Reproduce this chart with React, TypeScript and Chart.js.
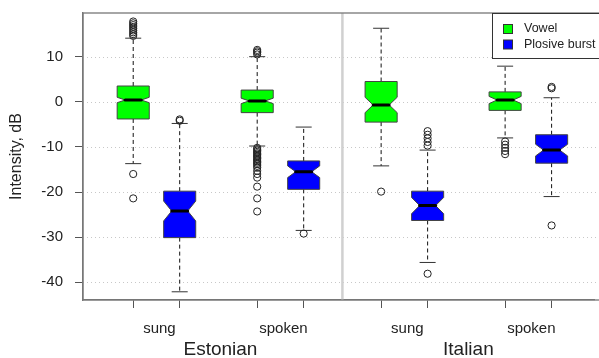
import React, { useEffect, useRef } from "react";
import { Chart, registerables } from "chart.js";
Chart.register(...registerables);

// ---- data ----
const styleLabels = ["sung", "spoken", "sung", "spoken"];
const languageLabels = ["Estonian", "Italian"];
const seriesNames = ["Vowel", "Plosive burst"];
const yTicks = [-40, -30, -20, -10, 0, 10];

const vowelPos = [1, 3.667, 6.333, 9];
const burstPos = [2, 4.667, 7.333, 10];

const vowelQ1 = [-3.8, -2.4, -4.5, -1.9];
const vowelMedian = [0.4, 0.2, -0.7, 0.4];
const vowelQ3 = [3.5, 2.6, 4.5, 2.2];
const vowelLow = [-13.7, -9.8, -14.2, -8.0];
const vowelHigh = [14.1, 10.0, 16.3, 7.9];
const vowelNotch = [0.6, 0.6, 1.7, 0.8];
const vowelOutliers = [
  [14.6, 15.0, 15.4, 15.8, 16.2, 16.6, 17.0, 17.4, 17.8, -16.0, -21.4],
  [10.5, 10.9, 11.2, 11.5, -10.2, -10.5, -10.8, -11.1, -11.4, -11.7, -12.0, -12.3, -12.6, -12.9, -13.2, -13.5, -13.8, -14.2, -14.6, -15.3, -16.0, -16.8, -18.8, -21.4, -24.3],
  [-19.9],
  [-8.8, -9.5, -10.2, -10.9, -11.6],
];

const burstQ1 = [-30.1, -19.4, -26.3, -13.6];
const burstMedian = [-24.2, -15.5, -23.0, -10.7];
const burstQ3 = [-19.8, -13.1, -19.8, -7.3];
const burstLow = [-42.1, -28.5, -35.6, -21.0];
const burstHigh = [-4.8, -5.6, -10.7, 0.9];
const burstNotch = [2.2, 1.3, 1.8, 1.3];
const burstOutliers = [
  [-3.9, -4.2],
  [-29.2],
  [-6.5, -7.3, -8.1, -8.9, -9.7, -38.1],
  [3.0, 3.3, -27.4],
];

const colors = ["#00ff00", "#0000ff"];
const FONT = "'Liberation Sans', Arial, Helvetica, sans-serif";

const series = [
  { name: seriesNames[0], color: colors[0], pos: vowelPos, q1: vowelQ1, med: vowelMedian, q3: vowelQ3, lo: vowelLow, hi: vowelHigh, notch: vowelNotch, out: vowelOutliers },
  { name: seriesNames[1], color: colors[1], pos: burstPos, q1: burstQ1, med: burstMedian, q3: burstQ3, lo: burstLow, hi: burstHigh, notch: burstNotch, out: burstOutliers },
];

const boxPlugin = {
  id: "boxes",
  beforeDatasetsDraw(chart: any) {
    const { ctx, chartArea: a, scales } = chart;
    const xs = scales.x, ys = scales.y;
    const right = chart.width;
    ctx.save();
    // grid lines
    ctx.strokeStyle = "#c8c8c8";
    ctx.lineWidth = 1;
    ctx.setLineDash([1, 3]);
    yTicks.forEach((t) => {
      const y = Math.round(ys.getPixelForValue(t)) + 0.5;
      ctx.beginPath();
      ctx.moveTo(a.left, y);
      ctx.lineTo(right, y);
      ctx.stroke();
    });
    ctx.setLineDash([]);
    // divider between languages
    const dx = xs.getPixelForValue((burstPos[1] + vowelPos[2]) / 2);
    ctx.strokeStyle = "#d0d0d0";
    ctx.lineWidth = 2.5;
    ctx.beginPath();
    ctx.moveTo(dx, a.top);
    ctx.lineTo(dx, a.bottom);
    ctx.stroke();

    series.forEach((s) => {
      s.pos.forEach((p, i) => {
        const cx = xs.getPixelForValue(p);
        const hw = xs.getPixelForValue(p + 0.345) - cx;
        const L = cx - hw, R = cx + hw;
        const yq1 = ys.getPixelForValue(s.q1[i]);
        const yq3 = ys.getPixelForValue(s.q3[i]);
        const ym = ys.getPixelForValue(s.med[i]);
        const yn1 = ys.getPixelForValue(s.med[i] + s.notch[i]);
        const yn2 = ys.getPixelForValue(s.med[i] - s.notch[i]);
        const ylo = ys.getPixelForValue(s.lo[i]);
        const yhi = ys.getPixelForValue(s.hi[i]);
        // whiskers
        ctx.strokeStyle = "#111";
        ctx.lineWidth = 1;
        ctx.setLineDash([4, 3]);
        ctx.beginPath();
        ctx.moveTo(cx, yq3);
        ctx.lineTo(cx, yhi);
        ctx.moveTo(cx, yq1);
        ctx.lineTo(cx, ylo);
        ctx.stroke();
        ctx.setLineDash([]);
        ctx.strokeStyle = "#333";
        ctx.beginPath();
        ctx.moveTo(cx - hw / 2, yhi);
        ctx.lineTo(cx + hw / 2, yhi);
        ctx.moveTo(cx - hw / 2, ylo);
        ctx.lineTo(cx + hw / 2, ylo);
        ctx.stroke();
        // notched box
        ctx.beginPath();
        ctx.moveTo(L, yq3);
        ctx.lineTo(R, yq3);
        ctx.lineTo(R, yn1);
        ctx.lineTo(R - hw / 2, ym);
        ctx.lineTo(R, yn2);
        ctx.lineTo(R, yq1);
        ctx.lineTo(L, yq1);
        ctx.lineTo(L, yn2);
        ctx.lineTo(L + hw / 2, ym);
        ctx.lineTo(L, yn1);
        ctx.closePath();
        ctx.fillStyle = s.color;
        ctx.fill();
        ctx.strokeStyle = "#444";
        ctx.lineWidth = 1;
        ctx.stroke();
        // median
        ctx.strokeStyle = "#000";
        ctx.lineWidth = 3;
        ctx.lineCap = "round";
        ctx.beginPath();
        ctx.moveTo(L + hw / 2, ym);
        ctx.lineTo(R - hw / 2, ym);
        ctx.stroke();
        ctx.lineCap = "butt";
      });
    });
    ctx.restore();
  },
  afterDraw(chart: any) {
    const { ctx, chartArea: a, scales } = chart;
    const xs = scales.x;
    ctx.save();
    // plot frame (right side runs past the canvas edge)
    ctx.strokeStyle = "#777";
    ctx.lineWidth = 1.3;
    ctx.strokeRect(a.left, a.top, chart.width - a.left + 5, a.bottom - a.top);
    // category labels
    ctx.fillStyle = "#222";
    ctx.textAlign = "center";
    ctx.textBaseline = "alphabetic";
    ctx.font = `15px ${FONT}`;
    styleLabels.forEach((lab, i) => {
      const x = (xs.getPixelForValue(vowelPos[i]) + xs.getPixelForValue(burstPos[i])) / 2 + 3;
      ctx.fillText(lab, x, 333);
    });
    ctx.font = `19px ${FONT}`;
    languageLabels.forEach((lab, i) => {
      const x = (xs.getPixelForValue(vowelPos[i * 2]) + xs.getPixelForValue(burstPos[i * 2 + 1])) / 2 + 2;
      ctx.fillText(lab, x, 355);
    });
    // y title
    ctx.font = `16px ${FONT}`;
    ctx.translate(17, (a.top + a.bottom) / 2);
    ctx.rotate(-Math.PI / 2);
    ctx.textBaseline = "middle";
    ctx.fillText("Intensity, dB", 0, 0);
    ctx.restore();
    // legend
    ctx.save();
    const lx = chart.width - 107;
    const ly = a.top;
    ctx.fillStyle = "#fff";
    ctx.fillRect(lx, ly, 120, 45);
    ctx.strokeStyle = "#333";
    ctx.lineWidth = 1;
    ctx.strokeRect(lx + 0.5, ly + 0.5, 120, 45);
    ctx.font = `12.5px ${FONT}`;
    ctx.textAlign = "left";
    ctx.textBaseline = "middle";
    series.forEach((s, i) => {
      const yy = ly + 16 + i * 15.5;
      ctx.fillStyle = s.color;
      ctx.fillRect(lx + 11.5, yy - 4.5, 9, 9);
      ctx.strokeStyle = "#333";
      ctx.strokeRect(lx + 11.5, yy - 4.5, 9, 9);
      ctx.fillStyle = "#222";
      ctx.fillText(s.name, lx + 32, yy);
    });
    ctx.restore();
  },
};

export default function App() {
  const ref = useRef<HTMLCanvasElement>(null);
  useEffect(() => {
    document.body.style.margin = "0";
    const datasets: any[] = [];
    series.forEach((s) => {
      const pts: any[] = [];
      s.pos.forEach((p, i) => s.out[i].forEach((v) => pts.push({ x: p, y: v })));
      datasets.push({
        label: s.name,
        data: pts,
        pointStyle: "circle",
        pointRadius: 3.6,
        pointBorderWidth: 1,
        pointBorderColor: "#222",
        pointBackgroundColor: "rgba(0,0,0,0)",
        showLine: false,
      });
    });
    const chart = new Chart(ref.current!, {
      type: "scatter",
      data: { datasets },
      options: {
        animation: false,
        responsive: false,
        layout: { padding: { top: 13, left: 0, right: 0, bottom: 0 } },
        plugins: { legend: { display: false }, tooltip: { enabled: false } },
        scales: {
          x: {
            type: "linear",
            min: -0.08,
            max: 10.912,
            afterBuildTicks: (ax: any) => {
              ax.ticks = [...vowelPos, ...burstPos].sort((a, b) => a - b).map((v) => ({ value: v }));
            },
            afterFit: (ax: any) => {
              ax.height = 58;
              ax.paddingLeft = 0;
              ax.paddingRight = 0;
            },
            ticks: { display: false },
            grid: { drawOnChartArea: false, drawTicks: true, tickLength: 8, tickColor: "#555", tickWidth: 1 },
            border: { display: true, color: "#777", width: 1.3 },
          },
          y: {
            type: "linear",
            min: -43.92,
            max: 19.68,
            afterBuildTicks: (ax: any) => {
              ax.ticks = yTicks.map((v) => ({ value: v }));
            },
            afterFit: (ax: any) => {
              ax.width = 83;
              ax.paddingTop = 0;
              ax.paddingBottom = 0;
            },
            ticks: { color: "#222", font: { family: FONT, size: 15 }, padding: 12 },
            grid: { drawOnChartArea: false, drawTicks: true, tickLength: 8, tickColor: "#555", tickWidth: 1 },
            border: { display: true, color: "#777", width: 1.3 },
          },
        },
      },
      plugins: [boxPlugin],
    });
    return () => chart.destroy();
  }, []);
  return (
    <div style={{ width: 599, height: 358 }}>
      <canvas ref={ref} width={599} height={358} style={{ display: "block" }} />
    </div>
  );
}
